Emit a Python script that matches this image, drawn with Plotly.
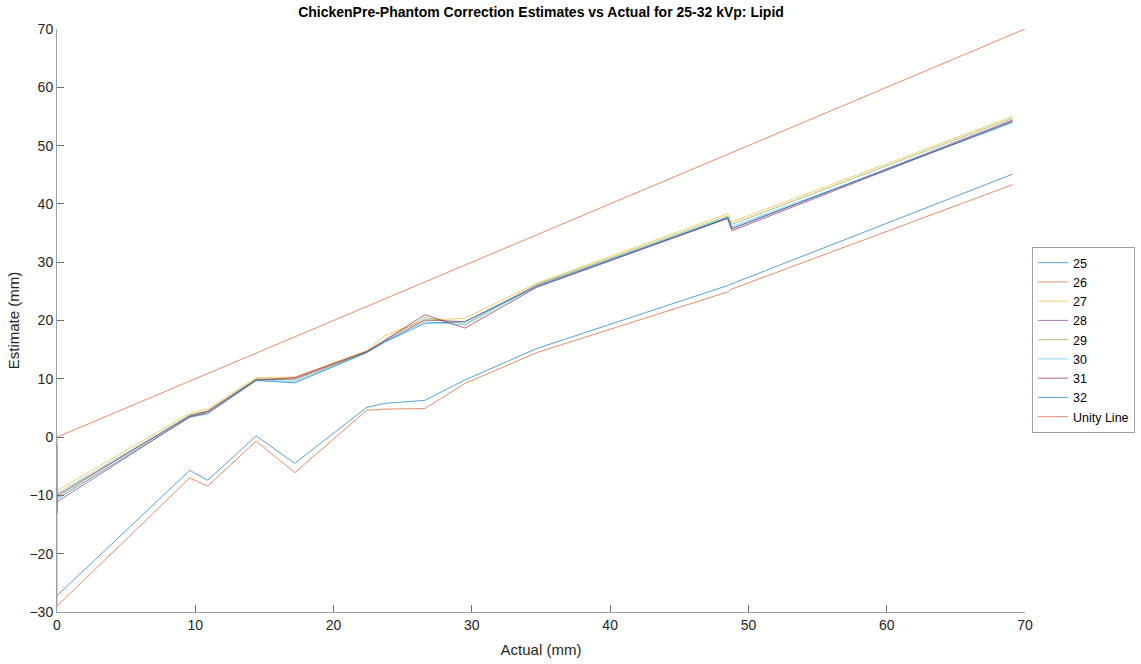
import plotly.graph_objects as go

# Actual thickness (mm) at each measurement point
actual = [0, 9.6, 10.9, 14.4, 17.2, 22.4, 23.7, 26.6, 29.5, 34.7, 48.5, 48.8, 69.1]

# Estimated thickness (mm) per tube voltage (kVp)
est_25 = [-27.2, -5.7, -7.4, 0.2, -4.5, 5.1, 5.8, 6.3, 9.8, 15.2, 26.0, 26.3, 45.1]
est_26 = [-29.0, -7.0, -8.4, -0.7, -6.1, 4.6, 4.8, 4.9, 9.2, 14.5, 24.9, 25.4, 43.3]
est_27 = [-9.2, 4.1, 4.8, 10.2, 10.3, 14.8, 17.4, 20.0, 20.4, 26.4, 38.3, 36.9, 55.0]
est_28 = [-11.1, 3.5, 4.2, 9.8, 10.0, 14.6, 16.4, 20.1, 19.8, 26.0, 37.6, 35.7, 54.4]
est_29 = [-10.3, 3.8, 4.5, 10.0, 9.8, 14.6, 16.6, 20.5, 19.4, 26.2, 37.9, 36.5, 54.7]
est_30 = [-9.7, 3.7, 4.4, 9.9, 9.5, 14.5, 16.4, 19.8, 19.2, 25.9, 37.7, 36.1, 53.9]
est_31 = [-10.0, 3.6, 4.4, 9.8, 10.2, 14.7, 16.6, 21.0, 18.7, 25.7, 37.5, 35.4, 54.2]
est_32 = [-10.6, 3.4, 4.0, 9.7, 9.3, 14.5, 16.3, 19.5, 19.8, 25.8, 37.6, 35.8, 54.1]

# Extra readings at zero thickness that precede some series
zero_26 = [0.0]
zero_32 = [-1.3, -13.0]

unity_x = [0, 70]
unity_y = [0, 70]

kvp_labels = ["25", "26", "27", "28", "29", "30", "31", "32"]
colors = ["#0072BD", "#D95319", "#EDB120", "#7E2F8E", "#77AC30",
          "#4DBEEE", "#A2142F", "#0072BD"]

series = [
    (actual, est_25),
    ([0] * len(zero_26) + actual, zero_26 + est_26),
    (actual, est_27),
    (actual, est_28),
    (actual, est_29),
    (actual, est_30),
    (actual, est_31),
    ([0] * len(zero_32) + actual, zero_32 + est_32),
]

FONT = "Liberation Sans, Arial"

fig = go.Figure()
for (xs, ys), name, c in zip(series, kvp_labels, colors):
    fig.add_trace(go.Scatter(x=xs, y=ys, mode="lines", name=name,
                             line=dict(color=c, width=1), opacity=0.65))
fig.add_trace(go.Scatter(x=unity_x, y=unity_y, mode="lines", name="Unity Line",
                         line=dict(color="#D95319", width=1), opacity=0.65))

axis_style = dict(
    showgrid=False, zeroline=False, showline=True, linecolor="#a0a0a0",
    linewidth=1, ticks="inside", ticklen=7, tickcolor="#707070",
    tickfont=dict(family=FONT, size=14, color="#262626"),
    mirror=False, automargin=False,
)

fig.update_layout(
    width=1141, height=664,
    margin=dict(l=57, r=116, t=29, b=52, autoexpand=False),
    paper_bgcolor="white", plot_bgcolor="white",
    title=dict(text="<b>ChickenPre-Phantom Correction Estimates vs Actual for 25-32 kVp: Lipid</b>",
               x=(57 + 1025) / 2 / 1141, xanchor="center", y=1 - 12 / 664, yanchor="middle",
               font=dict(family=FONT, size=14, color="black")),
    xaxis=dict(range=[0, 70], tickvals=[0, 10, 20, 30, 40, 50, 60, 70],
               title=dict(text="Actual (mm)", standoff=12,
                          font=dict(family=FONT, size=15, color="#262626")),
               **axis_style),
    yaxis=dict(range=[-30, 70], tickvals=[-30, -20, -10, 0, 10, 20, 30, 40, 50, 60, 70],
               title=dict(text="Estimate (mm)", standoff=6,
                          font=dict(family=FONT, size=15, color="#262626")),
               **axis_style),
    legend=dict(x=1.0072, xanchor="left", y=0.626, yanchor="top",
                bordercolor="#a0a0a0", borderwidth=1, bgcolor="white",
                font=dict(family=FONT, size=12.5, color="black"),
                tracegroupgap=0, itemwidth=30),
    showlegend=True,
)

fig.write_html("out.html")
